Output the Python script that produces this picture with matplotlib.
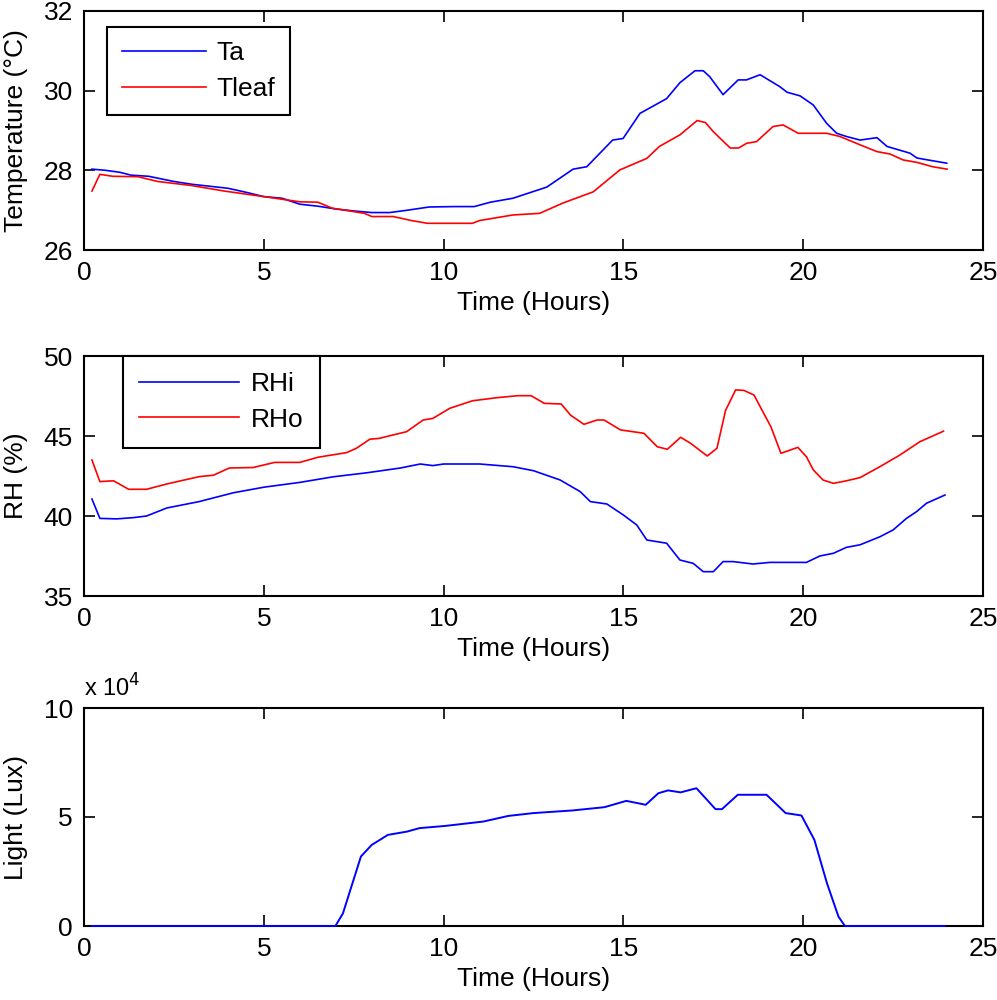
import numpy as np
import matplotlib
matplotlib.use('Agg')
import matplotlib.pyplot as plt

# values
ta_t = [0.22, 0.6, 1.0, 1.3, 1.8, 2.5, 3.0, 3.5, 4.0, 4.5, 5.0, 5.5, 6.0, 6.5, 7.0, 7.5, 8.0,
        8.5, 9.0, 9.6, 10.3, 10.85, 11.3, 11.93, 12.87, 13.6, 13.98, 14.7, 14.99, 15.46, 16.2,
        16.57, 16.99, 17.22, 17.4, 17.77, 18.19, 18.42, 18.8, 19.35, 19.55, 19.91, 20.28,
        20.65, 20.93, 21.2, 21.58, 22.05, 22.33, 22.97, 23.16, 23.6, 23.99]
ta = [28.03, 28.0, 27.95, 27.88, 27.85, 27.72, 27.65, 27.6, 27.55, 27.45, 27.34, 27.3, 27.15,
      27.1, 27.03, 26.98, 26.94, 26.94, 27.0, 27.08, 27.09, 27.09, 27.2, 27.3, 27.58, 28.03,
      28.09, 28.76, 28.8, 29.43, 29.8, 30.2, 30.5, 30.5, 30.35, 29.9, 30.27, 30.27, 30.4, 30.1,
      29.96, 29.87, 29.64, 29.18, 28.93, 28.85, 28.76, 28.82, 28.6, 28.43, 28.31, 28.24, 28.18]

tleaf_t = [0.22, 0.44, 0.8, 1.5, 2.05, 2.98, 3.9, 5.0, 6.0, 6.5, 6.9, 7.8, 8.0, 8.6, 9.1,
           9.55, 10.8, 11.0, 11.93, 12.67, 13.32, 14.16, 14.9, 15.65, 16.0, 16.57, 17.05,
           17.28, 17.5, 17.97, 18.2, 18.43, 18.7, 19.16, 19.44, 19.86, 20.65, 21.02, 21.58,
           22.05, 22.41, 22.78, 23.16, 23.6, 24.0]
tleaf = [27.48, 27.9, 27.85, 27.84, 27.72, 27.62, 27.48, 27.34, 27.21, 27.2, 27.05, 26.92,
         26.84, 26.84, 26.74, 26.67, 26.67, 26.74, 26.88, 26.92, 27.18, 27.46, 28.01, 28.3,
         28.6, 28.89, 29.25, 29.2, 28.97, 28.56, 28.56, 28.68, 28.72, 29.1, 29.14, 28.93,
         28.93, 28.85, 28.64, 28.47, 28.41, 28.26, 28.2, 28.09, 28.03]

rhi_t = [0.22, 0.44, 0.91, 1.38, 1.74, 2.3, 3.2, 4.15, 5.0, 6.0, 6.93, 7.86, 8.8, 9.35, 9.7,
         10.0, 11.0, 11.93, 12.5, 13.24, 13.8, 14.08, 14.54, 15.0, 15.37, 15.65, 16.2, 16.57,
         16.94, 17.22, 17.5, 17.77, 18.05, 18.6, 19.07, 20.09, 20.46, 20.84, 21.2, 21.58,
         22.13, 22.5, 22.87, 23.15, 23.43, 23.94]
rhi = [41.06, 39.85, 39.82, 39.9, 40.0, 40.5, 40.9, 41.45, 41.8, 42.1, 42.45, 42.7, 43.0,
       43.25, 43.15, 43.25, 43.25, 43.08, 42.83, 42.25, 41.52, 40.9, 40.75, 40.06, 39.44,
       38.5, 38.3, 37.25, 37.04, 36.52, 36.52, 37.15, 37.15, 37.0, 37.1, 37.1, 37.5, 37.67,
       38.04, 38.2, 38.7, 39.13, 39.85, 40.27, 40.8, 41.31]

rho_t = [0.22, 0.44, 0.82, 1.24, 1.74, 2.3, 3.2, 3.6, 4.04, 4.7, 5.3, 6.0, 6.5, 7.3, 7.57,
         7.95, 8.2, 8.97, 9.43, 9.7, 10.17, 10.8, 11.5, 12.07, 12.43, 12.8, 13.27, 13.53,
         13.9, 14.27, 14.46, 14.92, 15.57, 15.94, 16.22, 16.59, 16.87, 17.33, 17.6, 17.84,
         18.12, 18.35, 18.63, 18.9, 19.1, 19.38, 19.85, 20.09, 20.28, 20.55, 20.84, 21.2,
         21.58, 22.13, 22.68, 23.24, 23.9]
rho = [43.5, 42.15, 42.2, 41.67, 41.67, 42.0, 42.46, 42.55, 43.0, 43.03, 43.35, 43.35, 43.67,
       43.96, 44.23, 44.8, 44.85, 45.27, 46.0, 46.1, 46.73, 47.2, 47.4, 47.52, 47.52, 47.04,
       47.0, 46.3, 45.73, 46.0, 46.0, 45.38, 45.17, 44.33, 44.17, 44.92, 44.54, 43.75, 44.23,
       46.6, 47.88, 47.85, 47.56, 46.42, 45.58, 43.92, 44.29, 43.7, 42.88, 42.25, 42.04, 42.2,
       42.4, 43.08, 43.8, 44.64, 45.3]

light_t = [0.21, 6.99, 7.2, 7.7, 8.0, 8.45, 8.98, 9.33, 10.04, 11.1, 11.8, 12.5, 13.58,
           14.47, 15.08, 15.62, 15.97, 16.24, 16.59, 17.03, 17.56, 17.74, 18.18, 18.98,
           19.51, 19.95, 20.31, 20.66, 20.98, 21.16, 23.94]
light = [0, 0, 5800, 31900, 37200, 41800, 43300, 44900, 45900, 47900, 50500, 51800, 53000,
         54500, 57400, 55600, 60900, 62200, 61300, 63200, 53600, 53600, 60200, 60200, 51800,
         50700, 39500, 19600, 4300, 0, 0]

plt.rcParams['font.family'] = ['Liberation Sans', 'DejaVu Sans']
plt.rcParams['font.size'] = 19

fig = plt.figure(figsize=(9.97, 10), dpi=100)
ax1 = fig.add_axes([0.0843, 0.750, 0.9017, 0.239])
ax2 = fig.add_axes([0.0843, 0.404, 0.9017, 0.240])
ax3 = fig.add_axes([0.0843, 0.074, 0.9017, 0.218])

ax1.plot(ta_t, ta, color='#0000ff', lw=1.2, label='Ta')
ax1.plot(tleaf_t, tleaf, color='#ff0000', lw=1.2, label='Tleaf')
ax1.set_ylim(26, 32)
ax1.set_yticks([26, 28, 30, 32])
ax1.set_ylabel('Temperature (°C)')
leg1 = ax1.legend(loc='upper left', bbox_to_anchor=(0.0256, 0.935), borderaxespad=0,
                  handlelength=3.2, handletextpad=0.4, borderpad=0.55, labelspacing=0.45,
                  fancybox=False)

ax2.plot(rhi_t, rhi, color='#0000ff', lw=1.2, label='RHi')
ax2.plot(rho_t, rho, color='#ff0000', lw=1.2, label='RHo')
ax2.set_ylim(35, 50)
ax2.set_yticks([35, 40, 45, 50])
ax2.set_ylabel('RH (%)')
leg2 = ax2.legend(loc='upper left', bbox_to_anchor=(0.0434, 1.0), borderaxespad=0,
                  handlelength=3.8, handletextpad=0.45, borderpad=0.6, labelspacing=0.45,
                  fancybox=False)

ax3.plot(light_t, np.array(light) / 1e4, color='#0000ff', lw=1.4, clip_on=False, zorder=5)
ax3.set_ylim(0, 10)
ax3.set_yticks([0, 5, 10])
ax3.set_ylabel('Light (Lux)')
ax3.text(0.0, 1.03, r'x 10$^4$', transform=ax3.transAxes, fontsize=17, va='bottom')

for ax in (ax1, ax2, ax3):
    ax.set_xlim(0, 25)
    ax.set_xticks([0, 5, 10, 15, 20, 25])
    ax.set_xlabel('Time (Hours)', labelpad=4)
    ax.yaxis.set_label_coords(-0.062, 0.5)
    ax.tick_params(direction='in', length=8, width=1.2, top=True, right=True, pad=8)
    for s in ax.spines.values():
        s.set_linewidth(1.5)

for leg in (leg1, leg2):
    leg.get_frame().set_edgecolor('black')
    leg.get_frame().set_linewidth(1.5)
    leg.get_frame().set_alpha(1)

fig.savefig('out.png', dpi=100)
